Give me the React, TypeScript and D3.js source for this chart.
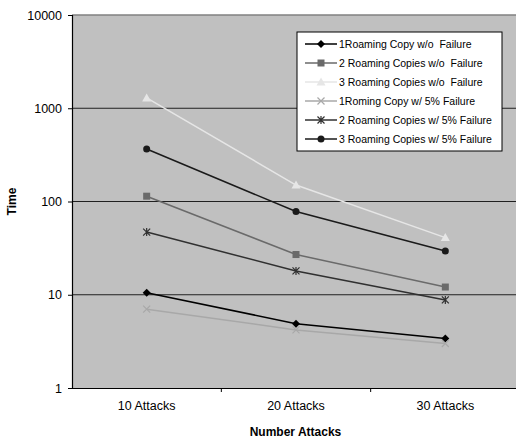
import { useEffect, useRef } from "react";
import * as d3 from "d3";

const categories = ["10 Attacks", "20 Attacks", "30 Attacks"];
const yTicks = [1, 10, 100, 1000, 10000];

const seriesNames = [
    "1Roaming Copy w/o  Failure",
    "2 Roaming Copies w/o  Failure",
    "3 Roaming Copies w/o  Failure",
    "1Roming Copy w/ 5% Failure",
    "2 Roaming Copies w/ 5% Failure",
    "3 Roaming Copies w/ 5% Failure",
];
const oneCopyNoFail = [10.5, 4.9, 3.4];
const twoCopiesNoFail = [114, 27, 12.1];
const threeCopiesNoFail = [1290, 150, 41];
const oneCopyFail = [7.0, 4.2, 3.0];
const twoCopiesFail = [47, 18, 8.8];
const threeCopiesFail = [365, 78, 29.5];

const seriesValues = [oneCopyNoFail, twoCopiesNoFail, threeCopiesNoFail, oneCopyFail, twoCopiesFail, threeCopiesFail];
const colors = ["#000000", "#6a6a6a", "#e6e6e6", "#a8a8a8", "#303030", "#1a1a1a"];
const shapes = ["diamond", "square", "triangle", "x", "asterisk", "circle"];

/* draws one marker at 0,0 inside group g */
function drawMarker(g, shape, color) {
    if (shape === "diamond") {
        g.append("path").attr("d", "M0,-4L4,0L0,4L-4,0Z").attr("fill", color);
    } else if (shape === "square") {
        g.append("rect").attr("x", -3.5).attr("y", -3.5).attr("width", 7).attr("height", 7).attr("fill", color);
    } else if (shape === "triangle") {
        g.append("path").attr("d", "M0,-4.5L4.5,3.5L-4.5,3.5Z").attr("fill", color);
    } else if (shape === "circle") {
        g.append("circle").attr("r", 3.5).attr("fill", color);
    } else if (shape === "x") {
        g.append("path").attr("d", "M-3.5,-3.5L3.5,3.5M-3.5,3.5L3.5,-3.5")
            .attr("stroke", color).attr("stroke-width", 1.2);
    } else {
        g.append("path").attr("d", "M-3.5,-3.5L3.5,3.5M-3.5,3.5L3.5,-3.5M0,-4L0,4")
            .attr("stroke", color).attr("stroke-width", 1.2);
    }
}

function App() {
    const svgRef = useRef(null);
    const width = 516;
    const height = 439;
    const margin = { top: 15, bottom: 51, left: 72, right: -4 };

    useEffect(() => {
        const svg = d3.select(svgRef.current);
        svg.selectAll("*").remove();

        const xScale = d3.scaleBand()
            .domain(categories)
            .range([margin.left, width - margin.right])
            .padding(0);

        const yScale = d3.scaleLog()
            .domain([1, 10000])
            .range([height - margin.bottom, margin.top]);

        const font = "'Liberation Sans', Arial, sans-serif";

        // plot area
        svg.append("rect")
            .attr("x", margin.left).attr("y", margin.top)
            .attr("width", width - margin.right - margin.left)
            .attr("height", height - margin.bottom - margin.top)
            .attr("fill", "#c0c0c0");
        svg.append("line")
            .attr("x1", margin.left).attr("x2", width - margin.right)
            .attr("y1", margin.top).attr("y2", margin.top)
            .attr("stroke", "#808080").attr("stroke-width", 1.5);

        // gridlines
        svg.selectAll(".grid")
            .data(yTicks.slice(1, -1))
            .enter()
            .append("line")
            .attr("x1", margin.left).attr("x2", width - margin.right)
            .attr("y1", d => yScale(d)).attr("y2", d => yScale(d))
            .attr("stroke", "#202020").attr("stroke-width", 1.2);

        // y axis
        const yAxis = svg.append("g")
            .attr("transform", `translate(${margin.left}, 0)`)
            .call(d3.axisLeft(yScale).tickValues(yTicks).tickFormat(d3.format("d")).tickSize(4).tickPadding(6));
        yAxis.select(".domain").attr("stroke", "#000").attr("stroke-width", 1.2);
        yAxis.selectAll("text").attr("font-family", font).attr("font-size", 12.5).attr("fill", "#000");

        // x axis
        const xAxis = svg.append("g")
            .attr("transform", `translate(0, ${height - margin.bottom})`)
            .call(d3.axisBottom(xScale).tickSize(0).tickPadding(13).tickSizeOuter(0));
        xAxis.select(".domain").attr("stroke", "#000").attr("stroke-width", 1.2);
        xAxis.selectAll("text").attr("font-family", font).attr("font-size", 12.5).attr("fill", "#000");
        xAxis.selectAll(".sep")
            .data(categories.slice(1))
            .enter()
            .append("line")
            .attr("x1", d => xScale(d)).attr("x2", d => xScale(d))
            .attr("y1", 0).attr("y2", 4)
            .attr("stroke", "#000");

        // axis titles
        svg.append("text")
            .attr("x", (margin.left + 447) / 2 + 36).attr("y", 436)
            .attr("text-anchor", "middle")
            .attr("font-family", font).attr("font-size", 12).attr("font-weight", "bold")
            .text("Number Attacks");
        svg.append("text")
            .attr("transform", `translate(16, ${(margin.top + height - margin.bottom) / 2}) rotate(-90)`)
            .attr("text-anchor", "middle")
            .attr("font-family", font).attr("font-size", 12).attr("font-weight", "bold")
            .text("Time");

        // lines and markers
        const line = d3.line()
            .x((d, i) => xScale(categories[i]) + xScale.bandwidth() / 2)
            .y(d => yScale(d));

        seriesValues.forEach((vals, s) => {
            svg.append("path")
                .attr("d", line(vals))
                .attr("fill", "none")
                .attr("stroke", colors[s])
                .attr("stroke-width", 1.5);
            vals.forEach((v, i) => {
                const g = svg.append("g")
                    .attr("transform", `translate(${xScale(categories[i]) + xScale.bandwidth() / 2}, ${yScale(v)})`);
                drawMarker(g, shapes[s], colors[s]);
            });
        });

        // legend
        const legend = svg.append("g").attr("transform", "translate(297, 32)");
        legend.append("rect")
            .attr("width", 205).attr("height", 119)
            .attr("fill", "#fff").attr("stroke", "#000").attr("stroke-width", 1);
        seriesNames.forEach((name, s) => {
            const y = 12 + s * 19;
            legend.append("line")
                .attr("x1", 8).attr("x2", 40).attr("y1", y).attr("y2", y)
                .attr("stroke", colors[s]).attr("stroke-width", 1.5);
            drawMarker(legend.append("g").attr("transform", `translate(24, ${y})`), shapes[s], colors[s]);
            legend.append("text")
                .attr("x", 42).attr("y", y + 4)
                .attr("font-family", font).attr("font-size", 10.5)
                .attr("xml:space", "preserve")
                .text(name);
        });
    }, []);

    return (
        <svg ref={svgRef} width={width} height={height}
            style={{ position: "absolute", left: 0, top: 0, background: "#fff" }}></svg>
    );
}

export default App;
